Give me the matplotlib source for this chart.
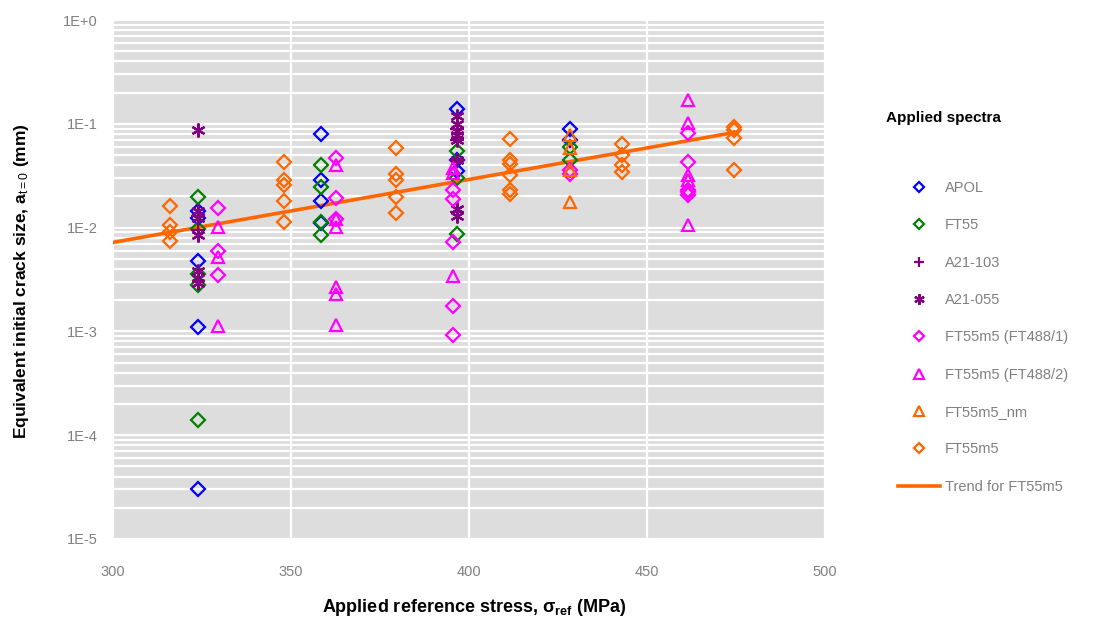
import numpy as np
import matplotlib
matplotlib.use("Agg")
import matplotlib.pyplot as plt
from matplotlib.ticker import LogLocator, FixedLocator, NullFormatter

plt.rcParams['font.family'] = ['Liberation Sans', 'DejaVu Sans']
plt.rcParams['mathtext.fontset'] = 'custom'
plt.rcParams['mathtext.rm'] = 'Liberation Sans'
plt.rcParams['mathtext.bf'] = 'Liberation Sans:bold'
plt.rcParams['mathtext.it'] = 'Liberation Sans:italic'

# ---------------- data ----------------
apol_x = [324, 324, 324, 324, 324, 358.5, 358.5, 358.5, 358.5, 396.5, 396.5, 396.5, 428.5, 428.5]
apol_y = [0.0146, 0.0125, 0.0048, 0.0011, 3.0e-5, 0.079, 0.0286, 0.0182, 0.011, 0.14, 0.045, 0.035, 0.09, 0.07]

ft55_x = [324, 324, 324, 324, 324, 358.5, 358.5, 358.5, 358.5, 396.5, 396.5, 396.5, 428.5, 428.5]
ft55_y = [0.0197, 0.0098, 0.0036, 0.0028, 1.4e-4, 0.040, 0.0244, 0.0113, 0.0084, 0.055, 0.030, 0.0087, 0.060, 0.045]

a21_103_x = [324, 324, 396.5, 396.5, 396.5, 396.5]
a21_103_y = [0.013, 0.0095, 0.090, 0.070, 0.045, 0.014]

a21_055_x = [324, 324, 324, 324, 324, 324, 324, 396.5, 396.5, 396.5, 396.5, 396.5, 396.5, 396.5, 396.5]
a21_055_y = [0.088, 0.0146, 0.0125, 0.0084, 0.0038, 0.0033, 0.0029, 0.118, 0.100, 0.085, 0.078, 0.070, 0.045, 0.015, 0.013]

m5_1_x = [329.5, 329.5, 329.5, 362.5, 362.5, 362.5, 395.5, 395.5, 395.5, 395.5, 395.5, 428.5, 428.5, 461.5, 461.5, 461.5, 461.5, 461.5]
m5_1_y = [0.0153, 0.0060, 0.0035, 0.0465, 0.0193, 0.012, 0.0232, 0.019, 0.0072, 0.00177, 0.00093, 0.033, 0.036, 0.081, 0.043, 0.0228, 0.0205, 0.022]

m5_2_x = [329.5, 329.5, 329.5, 362.5, 362.5, 362.5, 362.5, 362.5, 362.5, 395.5, 395.5, 395.5, 461.5, 461.5, 461.5, 461.5, 461.5]
m5_2_y = [0.0101, 0.0052, 0.00113, 0.040, 0.0122, 0.0102, 0.00265, 0.00228, 0.00115, 0.0375, 0.0335, 0.0034, 0.171, 0.101, 0.032, 0.029, 0.0105]

m5_nm_x = [428.5, 428.5, 428.5, 428.5]
m5_nm_y = [0.078, 0.058, 0.036, 0.0176]

m5_x = [316, 316, 316, 316, 348, 348, 348, 348, 348, 379.5, 379.5, 379.5, 379.5, 379.5,
        411.5, 411.5, 411.5, 411.5, 411.5, 411.5, 443, 443, 443, 443, 474.5, 474.5, 474.5, 474.5]
m5_y = [0.016, 0.0105, 0.009, 0.0075, 0.043, 0.0286, 0.0257, 0.0182, 0.0113, 0.058, 0.0332, 0.029, 0.0197, 0.0137,
        0.071, 0.045, 0.041, 0.032, 0.0228, 0.0212, 0.064, 0.050, 0.040, 0.0346, 0.094, 0.088, 0.073, 0.036]

# exponential trend line for FT55m5 (end points)
trend_x = [300, 475]
trend_y = [0.0072, 0.083]

x_ticks = [300, 350, 400, 450, 500]
y_ticks = [1e-5, 1e-4, 1e-3, 1e-2, 1e-1, 1e0]
y_ticklabels = ['1E-5', '1E-4', '1E-3', '1E-2', '1E-1', '1E+0']

# ---------------- figure ----------------
fig = plt.figure(figsize=(10.95, 6.19), dpi=100)
ax = fig.add_axes([113/1095, 1-539/619, (825-113)/1095, (539-20)/619])
ax.set_facecolor('#DDDDDD')
for s in ax.spines.values():
    s.set_visible(False)

ax.set_yscale('log')
ax.set_xlim(300, 500)
ax.set_ylim(1e-5, 1)
ax.yaxis.set_major_locator(FixedLocator(y_ticks))
ax.set_yticklabels(y_ticklabels)
ax.yaxis.set_minor_locator(LogLocator(base=10, subs=np.arange(2, 10)))
ax.yaxis.set_minor_formatter(NullFormatter())
ax.set_xticks(x_ticks)
ax.grid(True, which='both', axis='y', color='white', lw=1.6)
ax.grid(True, which='major', axis='x', color='white', lw=1.6)
ax.set_axisbelow(True)
ax.tick_params(which='both', length=0, colors='#808080', labelsize=10.5)
ax.tick_params(axis='x', pad=19)
ax.tick_params(axis='y', pad=11)

mew = 1.6
dms = 7.0
tms = 9.0
h_apol, = ax.plot(apol_x, apol_y, ls='none', marker='D', ms=dms, mfc='none', mec='#0000FF', mew=mew, label='APOL')
h_ft55, = ax.plot(ft55_x, ft55_y, ls='none', marker='D', ms=dms, mfc='none', mec='#008000', mew=mew, label='FT55')
h_103, = ax.plot(a21_103_x, a21_103_y, ls='none', marker='+', ms=10, mec='#800080', mew=mew, label='A21-103')
h_055, = ax.plot(a21_055_x, a21_055_y, ls='none', marker=(6, 2, 0), ms=10, mec='#800080', mew=mew, label='A21-055')
h_m51, = ax.plot(m5_1_x, m5_1_y, ls='none', marker='D', ms=dms, mfc='none', mec='#FF00FF', mew=mew, label='FT55m5 (FT488/1)')
h_m52, = ax.plot(m5_2_x, m5_2_y, ls='none', marker='^', ms=tms, mfc='none', mec='#FF00FF', mew=mew, label='FT55m5 (FT488/2)')
h_nm, = ax.plot(m5_nm_x, m5_nm_y, ls='none', marker='^', ms=tms, mfc='none', mec='#FF6600', mew=mew, label='FT55m5_nm')
h_m5, = ax.plot(m5_x, m5_y, ls='none', marker='D', ms=dms, mfc='none', mec='#FF6600', mew=mew, label='FT55m5')
h_tr, = ax.plot(trend_x, trend_y, color='#FF6600', lw=2.6, label='Trend for FT55m5', zorder=1.5)

ax.set_xlabel('Applied reference stress, σ$_{\\mathbf{ref}}$ (MPa)', fontsize=13, fontweight='bold')
ax.set_ylabel(r'Equivalent initial crack size, a$_{\mathrm{t=0}}$ (mm)', fontsize=12.5, fontweight='bold')
ax.xaxis.set_label_coords((474 - 113) / 712, -(607 - 539) / 519)
ax.xaxis.label.set_va('center')
ax.yaxis.set_label_coords((22 - 113) / 712, (539 - 281) / 519)
ax.yaxis.label.set_va('center')

fig.text(886/1095, 1-118/619, 'Applied spectra', fontsize=11, fontweight='bold', va='center', ha='left')
handles = [h_apol, h_ft55, h_103, h_055, h_m51, h_m52, h_nm, h_m5, h_tr]
leg = fig.legend(handles=handles, loc='upper left', bbox_to_anchor=(898/1095, 1-181/619),
                 frameon=False, fontsize=10.5, labelspacing=1.6, handlelength=2.9, handletextpad=0.3,
                 borderpad=0, borderaxespad=0, markerscale=0.75)
for t in leg.get_texts():
    t.set_color('#808080')

fig.savefig('out.png', dpi=100)
